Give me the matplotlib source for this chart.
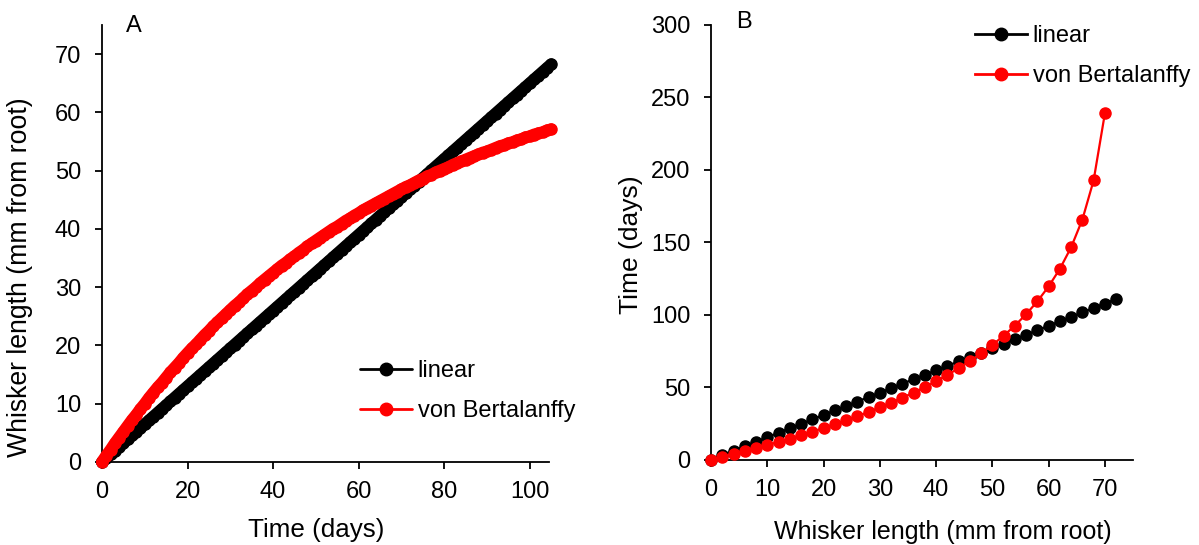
import matplotlib
matplotlib.use("Agg")
import matplotlib.pyplot as plt

plt.rcParams['font.family'] = ['Liberation Sans', 'DejaVu Sans']

# ---- Panel A data: whisker length vs time ----
days = list(range(0, 106))
len_linear = [0, 0.65, 1.3, 1.95, 2.6, 3.25, 3.9, 4.55, 5.2, 5.85, 6.5, 7.15, 7.8, 8.45, 9.1, 9.75,
              10.4, 11.05, 11.7, 12.35, 13, 13.65, 14.3, 14.95, 15.6, 16.25, 16.9, 17.55, 18.2, 18.85,
              19.5, 20.15, 20.8, 21.45, 22.1, 22.75, 23.4, 24.05, 24.7, 25.35, 26, 26.65, 27.3, 27.95,
              28.6, 29.25, 29.9, 30.55, 31.2, 31.85, 32.5, 33.15, 33.8, 34.45, 35.1, 35.75, 36.4, 37.05,
              37.7, 38.35, 39, 39.65, 40.3, 40.95, 41.6, 42.25, 42.9, 43.55, 44.2, 44.85, 45.5, 46.15,
              46.8, 47.45, 48.1, 48.75, 49.4, 50.05, 50.7, 51.35, 52, 52.65, 53.3, 53.95, 54.6, 55.25,
              55.9, 56.55, 57.2, 57.85, 58.5, 59.15, 59.8, 60.45, 61.1, 61.75, 62.4, 63.05, 63.7, 64.35,
              65, 65.65, 66.3, 66.95, 67.6, 68.25]
len_vb = [0, 1.1, 2.1, 3.2, 4.2, 5.2, 6.2, 7.2, 8.1, 9.1, 10.0, 11.0, 11.9, 12.8, 13.6, 14.5, 15.4,
          16.2, 17.0, 17.9, 18.7, 19.5, 20.2, 21.0, 21.8, 22.5, 23.3, 24.0, 24.7, 25.4, 26.1, 26.8,
          27.4, 28.1, 28.8, 29.4, 30.0, 30.7, 31.3, 31.9, 32.5, 33.1, 33.7, 34.2, 34.8, 35.3, 35.9,
          36.4, 37.0, 37.5, 38.0, 38.5, 39.0, 39.5, 40.0, 40.4, 40.9, 41.4, 41.8, 42.3, 42.7, 43.2,
          43.6, 44.0, 44.4, 44.8, 45.2, 45.6, 46.0, 46.4, 46.8, 47.2, 47.5, 47.9, 48.3, 48.6, 49.0,
          49.3, 49.7, 50.0, 50.3, 50.6, 51.0, 51.3, 51.6, 51.9, 52.2, 52.5, 52.8, 53.1, 53.3, 53.6,
          53.9, 54.2, 54.4, 54.7, 54.9, 55.2, 55.4, 55.7, 55.9, 56.2, 56.4, 56.6, 56.9, 57.1]

# ---- Panel B data: time vs whisker length ----
lengths_linear = [0, 2, 4, 6, 8, 10, 12, 14, 16, 18, 20, 22, 24, 26, 28, 30, 32, 34, 36, 38, 40,
                  42, 44, 46, 48, 50, 52, 54, 56, 58, 60, 62, 64, 66, 68, 70, 72]
time_linear = [0, 3.08, 6.15, 9.23, 12.31, 15.38, 18.46, 21.54, 24.62, 27.69, 30.77, 33.85, 36.92,
               40.0, 43.08, 46.15, 49.23, 52.31, 55.38, 58.46, 61.54, 64.62, 67.69, 70.77, 73.85,
               76.92, 80.0, 83.08, 86.15, 89.23, 92.31, 95.38, 98.46, 101.54, 104.62, 107.69, 110.77]
lengths_vb = [0, 2, 4, 6, 8, 10, 12, 14, 16, 18, 20, 22, 24, 26, 28, 30, 32, 34, 36, 38, 40,
              42, 44, 46, 48, 50, 52, 54, 56, 58, 60, 62, 64, 66, 68, 70]
time_vb = [0, 1.88, 3.81, 5.80, 7.85, 9.97, 12.16, 14.42, 16.75, 19.18, 21.70, 24.31, 27.03, 29.87,
           32.83, 35.93, 39.19, 42.61, 46.21, 50.02, 54.06, 58.36, 62.96, 67.90, 73.24, 79.04,
           85.40, 92.42, 100.27, 109.17, 119.45, 131.61, 146.48, 165.66, 192.69, 238.90]

series_names = ['linear', 'von Bertalanffy']
colors = ['#000000', '#ff0000']

W, H = 1199, 545
fig = plt.figure(figsize=(W / 100, H / 100), dpi=100)

def px_axes(l, r, t, b):
    return fig.add_axes([l / W, 1 - b / H, (r - l) / W, (b - t) / H])

axA = px_axes(102, 549, 25, 462)
axB = px_axes(711, 1133, 25, 459.5)

ms = 8
lw = 1.6
axA.plot(days, len_linear, '-o', color=colors[0], ms=ms, lw=8.6, solid_capstyle='round',
         label=series_names[0], clip_on=False, zorder=3)
axA.plot(days, len_vb, '-o', color=colors[1], ms=ms, lw=8.6, solid_capstyle='round',
         label=series_names[1], clip_on=False, zorder=4)
axB.plot(lengths_linear, time_linear, '-o', color=colors[0], ms=ms, lw=lw, label=series_names[0], clip_on=False, zorder=3)
axB.plot(lengths_vb, time_vb, '-o', color=colors[1], ms=ms, lw=lw, label=series_names[1], clip_on=False, zorder=4)

axA.set_xlim(0, 104.5)
axA.set_ylim(0, 75)
axA.set_xticks([0, 20, 40, 60, 80, 100])
axA.set_yticks([0, 10, 20, 30, 40, 50, 60, 70])
axB.set_xlim(0, 75)
axB.set_ylim(0, 300)
axB.set_xticks([0, 10, 20, 30, 40, 50, 60, 70])
axB.set_yticks([0, 50, 100, 150, 200, 250, 300])

for ax in (axA, axB):
    for s in ('top', 'right'):
        ax.spines[s].set_visible(False)
    for s in ('left', 'bottom'):
        ax.spines[s].set_linewidth(1.3)
    ax.tick_params(direction='out', length=5, width=1.3, labelsize=17, pad=9)
    ax.tick_params(axis='y', pad=10)

axA.set_xlabel('Time (days)', fontsize=18.7)
axA.set_ylabel('Whisker length (mm from root)', fontsize=19.2)
axA.xaxis.set_label_coords(0.479, -0.128)
axA.yaxis.set_label_coords(-0.154, 0.423)

axB.set_xlabel('Whisker length (mm from root)', fontsize=18)
axB.set_ylabel('Time (days)', fontsize=19)
axB.xaxis.set_label_coords(0.549, -0.139)
axB.yaxis.set_label_coords(-0.161, 0.494)

fig.text(134 / W, 1 - 26 / H, 'A', fontsize=17, ha='center', va='center')
fig.text(744 / W, 1 - 22.5 / H, 'B', fontsize=17, ha='center', va='center')

leg_kw = dict(frameon=False, fontsize=17, handlelength=2.2, handletextpad=0.25,
              labelspacing=0.78, borderpad=0, borderaxespad=0, loc='upper left',
              bbox_transform=fig.transFigure)
legA = axA.legend(bbox_to_anchor=(360 / W, 1 - 360 / H), **leg_kw)
legB = axB.legend(bbox_to_anchor=(975 / W, 1 - 25 / H), **leg_kw)
for leg in (legA, legB):
    for h in leg.legend_handles:
        h.set_markersize(9)
        h.set_linewidth(2)

fig.savefig('out.png', dpi=100)
